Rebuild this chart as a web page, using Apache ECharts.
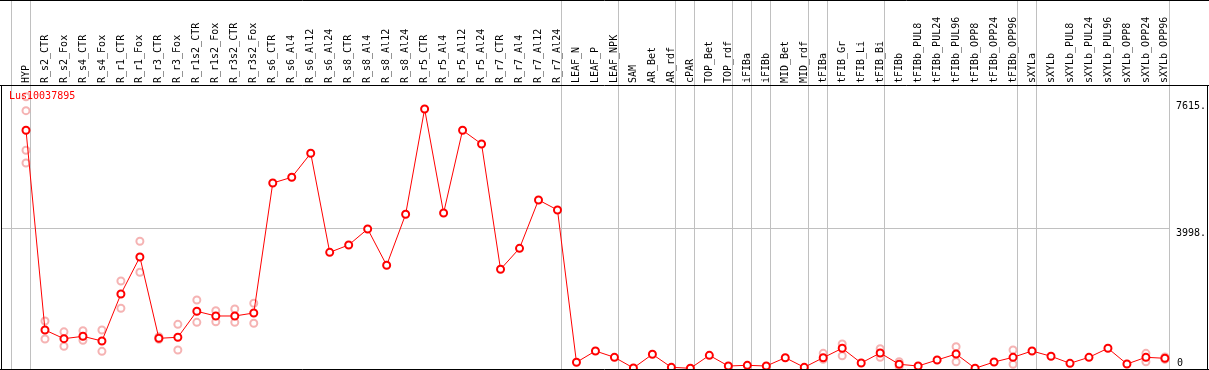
<!DOCTYPE html>
<html><head><meta charset="utf-8">
<script src="https://cdn.jsdelivr.net/npm/echarts@6/dist/echarts.min.js"></script>
<style>html,body{margin:0;padding:0;background:#fff}#c{width:1209px;height:370px}</style>
</head><body><div id="c"></div>
<script>
const geneName = 'Lus10037895';
const categories = ['HYP','R_s2_CTR','R_s2_Fox','R_s4_CTR','R_s4_Fox','R_r1_CTR','R_r1_Fox','R_r3_CTR','R_r3_Fox',
  'R_r1s2_CTR','R_r1s2_Fox','R_r3s2_CTR','R_r3s2_Fox','R_s6_CTR','R_s6_Al4','R_s6_Al12','R_s6_Al24',
  'R_s8_CTR','R_s8_Al4','R_s8_Al12','R_s8_Al24','R_r5_CTR','R_r5_Al4','R_r5_Al12','R_r5_Al24',
  'R_r7_CTR','R_r7_Al4','R_r7_Al12','R_r7_Al24','LEAF_N','LEAF_P','LEAF_NPK','SAM','AR_Bet','AR_rdf',
  'cPAR','TOP_Bet','TOP_rdf','iFIBa','iFIBb','MID_Bet','MID_rdf','tFIBa','tFIB_Gr','tFIB_Li','tFIB_Bi',
  'tFIBb','tFIBb_PUL8','tFIBb_PUL24','tFIBb_PUL96','tFIBb_OPP8','tFIBb_OPP24','tFIBb_OPP96',
  'sXYLa','sXYLb','sXYLb_PUL8','sXYLb_PUL24','sXYLb_PUL96','sXYLb_OPP8','sXYLb_OPP24','sXYLb_OPP96'];
const means = [6792,1098,850,918,784,2124,3179,861,890,1631,1497,1497,1583,5289,5452,6136,3313,
  3522,3978,2943,4397,7399,4434,6792,6401,2829,3427,4805,4520,177,499,319,15,405,34,
  6,376,71,91,71,308,34,308,576,157,442,120,71,242,413,6,185,319,
  499,348,148,319,576,128,319,291];
const replicateIndex = [0,1,2,3,4,5,6,7,8,9,10,11,12,42,43,45,46,49,52,59,60];
const replicateValues = [[7750,7351,6222,5860],[1355,842],[1045,633],[1078,804],[1098,490],[2495,1717],
  [3627,2743],[833,907],[1260,528],[1953,1317],[1648,1334],[1697,1317],[1859,1289],
  [433,262],[699,365],[565,319],[194,60],[622,194],[528,120],[433,194],[330,260]];
const groupEndsAfter = [-1,0,28,31,34,35,37,38,39,41,42,45,52,53,60];
const gridLineValues = [3998];
const tickValues = [7615, 3998, 0];
const tickLabels = ['7615.', '3998.', '0'];

const repData = [];
replicateIndex.forEach((ci, k) => replicateValues[k].forEach(v => repData.push([ci, v])));
const SEP_OFF = 0.21;
const sepData = groupEndsAfter.map(i => [i + SEP_OFF, 0]);
const lastSep = groupEndsAfter[groupEndsAfter.length - 1] + SEP_OFF;
const font = 'DejaVu Sans Mono';
const yMin = 0, yMax = 8055;
const labelFor = v => { const i = tickValues.indexOf(v); return i >= 0 ? tickLabels[i] : ''; };

const chart = echarts.init(document.getElementById('c'));
chart.setOption({
  animation: false,
  backgroundColor: '#fff',
  title: { text: geneName, left: 9, top: 91, padding: 0,
    textStyle: { color: '#ff0000', fontSize: 10, fontWeight: 'normal', fontFamily: font } },
  grid: { left: 26, right: 42.3, top: 86, bottom: 1.5, containLabel: false },
  xAxis: [
    { type: 'category', data: categories, boundaryGap: false, position: 'top',
      axisLine: { show: false }, axisTick: { show: false }, splitLine: { show: false },
      axisLabel: { interval: 0, rotate: 90, margin: 3, fontSize: 10, fontFamily: font, color: '#000' } },
    { type: 'value', min: 0, max: categories.length - 1, show: false }
  ],
  yAxis: [
    { type: 'value', min: yMin, max: yMax, position: 'right',
      axisLine: { show: false }, axisTick: { show: false }, splitLine: { show: false },
      axisLabel: { customValues: tickValues.filter(v => v !== 0), formatter: labelFor, margin: 11,
        verticalAlign: 'top', fontSize: 10, fontFamily: font, color: '#000' } },
    { type: 'value', min: yMin, max: yMax, position: 'right',
      axisLine: { show: false }, axisTick: { show: false }, splitLine: { show: false },
      axisLabel: { customValues: tickValues.filter(v => v === 0), formatter: labelFor, margin: 12,
        verticalAlign: 'bottom', fontSize: 10, fontFamily: font, color: '#000' } }
  ],
  graphic: [
    { type: 'line', shape: { x1: 0, y1: 0.5, x2: 1209, y2: 0.5 }, style: { stroke: '#000', lineWidth: 1 }, z: 100 },
    { type: 'line', shape: { x1: 0, y1: 85.5, x2: 1209, y2: 85.5 }, style: { stroke: '#000', lineWidth: 1 }, z: 100 },
    { type: 'line', shape: { x1: 1.5, y1: 85, x2: 1.5, y2: 370 }, style: { stroke: '#000', lineWidth: 1 }, z: 100 },
    { type: 'line', shape: { x1: 1207.5, y1: 85, x2: 1207.5, y2: 370 }, style: { stroke: '#000', lineWidth: 1 }, z: 100 },
    { type: 'line', shape: { x1: 0, y1: 369.5, x2: 1209, y2: 369.5 }, style: { stroke: '#000', lineWidth: 1 }, z: 100 }
  ],
  series: [
    { type: 'custom', xAxisIndex: 1, yAxisIndex: 0, clip: false, z: 1, silent: true,
      data: sepData,
      renderItem: (params, api) => {
        const x = Math.round(api.coord([api.value(0), 0])[0]) + 0.5;
        return { type: 'line', shape: { x1: x, y1: 0, x2: x, y2: 369 }, style: { stroke: '#c0c0c0', lineWidth: 1 } };
      } },
    { type: 'custom', xAxisIndex: 1, yAxisIndex: 0, clip: false, z: 1, silent: true,
      data: gridLineValues.map(v => [0, v]),
      renderItem: (params, api) => {
        const p = api.coord([0, api.value(1)]);
        const y = Math.round(p[1]) + 0.5;
        const x2 = Math.round(api.coord([lastSep, 0])[0]);
        return { type: 'line', shape: { x1: 1, y1: y, x2: x2, y2: y }, style: { stroke: '#c0c0c0', lineWidth: 1 } };
      } },
    { type: 'scatter', xAxisIndex: 0, yAxisIndex: 0, data: repData, z: 3, silent: true,
      symbol: 'emptyCircle', symbolSize: 7,
      itemStyle: { color: '#f2a0a0', borderColor: '#f2a0a0', borderWidth: 1.5 } },
    { type: 'line', xAxisIndex: 0, yAxisIndex: 0, data: means, z: 5, silent: true,
      symbol: 'emptyCircle', symbolSize: 7, showAllSymbol: true,
      lineStyle: { color: '#ff0000', width: 1 },
      itemStyle: { color: '#ff0000', borderColor: '#ff0000', borderWidth: 1.5 } }
  ]
});
</script></body></html>
